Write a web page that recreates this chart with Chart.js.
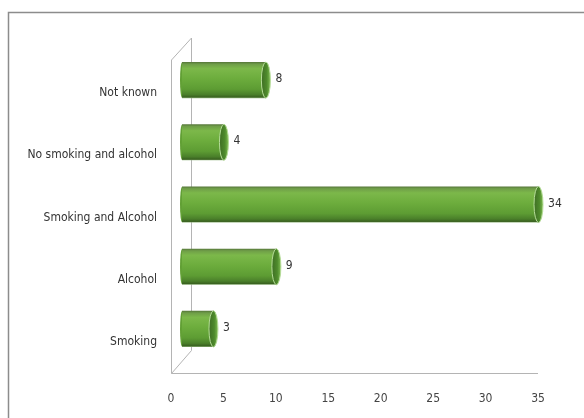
<!DOCTYPE html>
<html>
<head>
<meta charset="utf-8">
<script src="https://cdn.jsdelivr.net/npm/chart.js@4.4.1/dist/chart.umd.min.js"></script>
<style>
html,body{margin:0;padding:0;background:#fff;}
#wrap{width:584px;height:418px;position:relative;}
</style>
</head>
<body>
<div id="wrap"><canvas id="c" width="584" height="418"></canvas></div>
<script>
const categories = ["Not known", "No smoking and alcohol", "Smoking and Alcohol", "Alcohol", "Smoking"];
const values = [8, 4, 34, 9, 3];
const tickValues = [0, 5, 10, 15, 20, 25, 30, 35];

const FONT = "'Liberation Sans Narrow', 'DejaVu Sans Condensed', 'Liberation Sans', sans-serif";
const DEPTH_X = 11, DEPTH_Y = -13;
const BAR_PCT = 0.58;

function barGradient(c) {
  const chart = c.chart;
  const ys = chart.scales && chart.scales.y;
  if (!ys || !chart.chartArea) return '#6aa83a';
  const cy = ys.getPixelForValue(c.dataIndex);
  const h = ys.height / categories.length * BAR_PCT;
  const top = cy - h / 2;
  const g = chart.ctx.createLinearGradient(0, top, 0, top + h);
  g.addColorStop(0, '#56763a');
  g.addColorStop(0.06, '#6f9e48');
  g.addColorStop(0.18, '#7cb84a');
  g.addColorStop(0.45, '#6dad3d');
  g.addColorStop(0.75, '#5d9c33');
  g.addColorStop(0.9, '#4a7f2a');
  g.addColorStop(0.97, '#3a6220');
  g.addColorStop(1, '#8fb27a');
  return g;
}

const framePlugin = {
  id: 'frame',
  beforeDraw(chart) {
    const ctx = chart.ctx;
    ctx.save();
    ctx.fillStyle = '#fff';
    ctx.fillRect(0, 0, chart.width, chart.height);
    ctx.strokeStyle = '#8c8c8c';
    ctx.lineWidth = 1.5;
    ctx.beginPath();
    ctx.moveTo(8.5, chart.height);
    ctx.lineTo(8.5, 12.5);
    ctx.lineTo(chart.width, 12.5);
    ctx.stroke();
    ctx.restore();
  }
};

const wallPlugin = {
  id: 'wall',
  beforeDatasetsDraw(chart) {
    const ctx = chart.ctx;
    const a = chart.chartArea;
    const L = Math.round(a.left) + 0.5, T = a.top, B = Math.round(a.bottom) + 0.5, R = a.right;
    ctx.save();
    ctx.strokeStyle = '#b4b4b4';
    ctx.lineWidth = 1;
    ctx.beginPath();
    ctx.moveTo(L, B); ctx.lineTo(L, T - 2);
    ctx.lineTo(L + 20, T - 24);
    ctx.lineTo(L + 20, B - 23);
    ctx.moveTo(L, B); ctx.lineTo(L + 20, B - 23);
    ctx.moveTo(L, B); ctx.lineTo(R, B);
    ctx.stroke();
    ctx.restore();
    ctx.save();
    ctx.translate(DEPTH_X, DEPTH_Y);
  },
  afterDatasetsDraw(chart) {
    const ctx = chart.ctx;
    const meta = chart.getDatasetMeta(0);
    meta.data.forEach((el, i) => {
      const h = el.height;
      const rx = 4.5;
      // left rounded edge
      ctx.beginPath();
      ctx.ellipse(el.base, el.y, 2, h / 2 - 0.5, 0, Math.PI / 2, Math.PI * 1.5);
      ctx.fillStyle = '#62a035';
      ctx.fill();
      // end cap
      ctx.beginPath();
      ctx.ellipse(el.x, el.y, rx, h / 2, 0, 0, Math.PI * 2);
      const g = ctx.createLinearGradient(el.x - rx, 0, el.x + rx, 0);
      g.addColorStop(0, '#3f6e24');
      g.addColorStop(0.6, '#4e8a2c');
      g.addColorStop(1, '#7fbb52');
      ctx.fillStyle = g;
      ctx.fill();
      ctx.strokeStyle = '#b5dc98';
      ctx.lineWidth = 1;
      ctx.stroke();
      // value label
      ctx.fillStyle = '#333';
      ctx.font = '12px ' + FONT;
      ctx.textAlign = 'left';
      ctx.textBaseline = 'middle';
      ctx.fillText(String(values[i]), el.x + rx + 5, el.y - 1);
    });
    ctx.restore();
  }
};

new Chart(document.getElementById('c'), {
  type: 'bar',
  data: {
    labels: categories,
    datasets: [{
      data: values,
      backgroundColor: barGradient,
      borderWidth: 0,
      barPercentage: BAR_PCT,
      categoryPercentage: 1.0
    }]
  },
  options: {
    indexAxis: 'y',
    responsive: false,
    animation: false,
    devicePixelRatio: 1,
    layout: { padding: { top: 62, right: 46, bottom: 0, left: 0 } },
    plugins: { legend: { display: false }, tooltip: { enabled: false } },
    scales: {
      x: {
        min: 0, max: 35,
        afterBuildTicks(scale) { scale.ticks = tickValues.map(v => ({ value: v })); },
        afterFit(scale) { scale.height = 45; },
        grid: { display: false, drawTicks: false },
        border: { display: false },
        ticks: { padding: 19, color: '#444', font: { family: FONT, size: 12 } }
      },
      y: {
        afterFit(scale) { scale.width = 171; },
        grid: { display: false, drawTicks: false },
        border: { display: false },
        ticks: { padding: 14, color: '#333', font: { family: FONT, size: 12 } }
      }
    }
  },
  plugins: [framePlugin, wallPlugin]
});
</script>
</body>
</html>
